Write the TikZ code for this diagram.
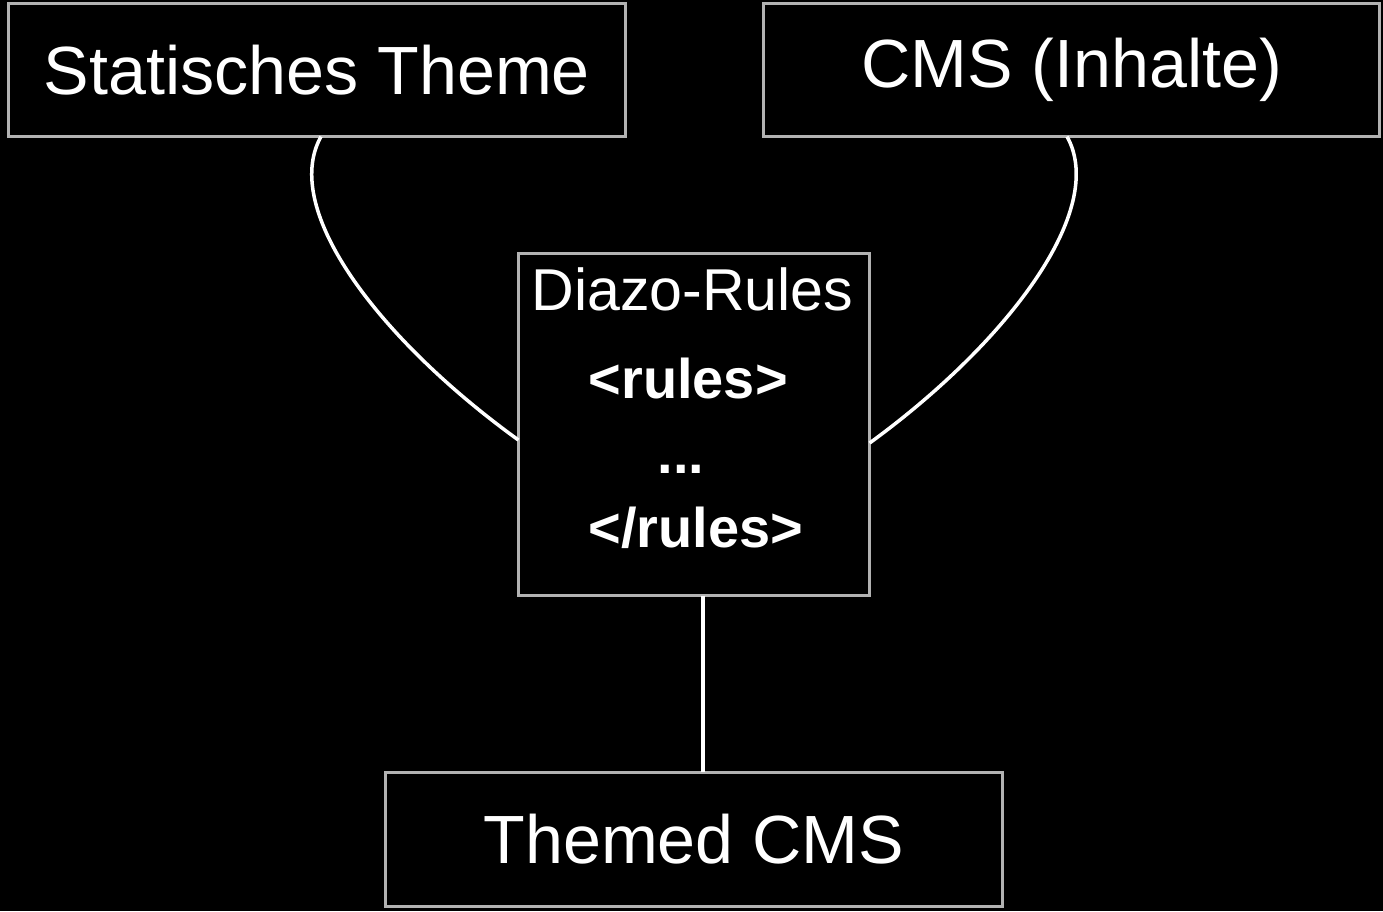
\documentclass[tikz,border=0pt]{standalone}
\usepackage{fontspec}
\setmainfont{Liberation Sans}
\begin{document}
\begin{tikzpicture}[x = 0.01cm, y = -0.01cm]
        \tikzstyle{block} = [rectangle, draw=gray!60, line width = 0.035cm, fill=black, text=white, outer sep = 0pt, font=\fontsize{19.4}{23}\selectfont]
        \tikzstyle{rule text} = [text=white, inner sep = 0pt, anchor = base west, font=\bfseries\fontsize{15.9}{19}\selectfont]
        \tikzstyle{link} = [white, line width = 0.035cm]
        \fill[black] (0,0) rectangle (1383,911);
        \useasboundingbox (0,0) rectangle (1383,911);
        \node[block, minimum width = 6.17cm, minimum height = 1.33cm](Theme) at (317,70) {Statisches Theme};
        \node[block, minimum width = 6.16cm, minimum height = 1.33cm](Content) at (1071.5,70) {CMS (Inhalte)};
        \node[block, minimum width = 3.51cm, minimum height = 3.42cm](Rules) at (694,424.5) {};
        \node[block, minimum width = 6.17cm, minimum height = 1.34cm](Result) at (694,839.5) {Themed CMS};
        \node[text=white, inner sep = 0pt, anchor = base, font=\fontsize{16.8}{20}\selectfont](Rules title) at (692.5,310) {Diazo-Rules};
        \node[rule text](Rules open) at (588,398) {<rules>};
        \node[rule text](Rules dots) at (657,473) {...};
        \node[rule text](Rules close) at (588,547) {</rules>};
        \draw [link] ([xshift=0.04cm]Theme.south) .. controls (280,210) and (380,340) .. ([yshift=-0.155cm]Rules.west);
        \draw [link] ([xshift=-0.045cm]Content.south) .. controls (1108,210) and (1007,343) .. ([yshift=-0.185cm]Rules.east);
        \draw [link] ([xshift=0.09cm]Rules.south) -- ([xshift=0.09cm]Rules.south |- Result.north);

    \end{tikzpicture}
\end{document}
